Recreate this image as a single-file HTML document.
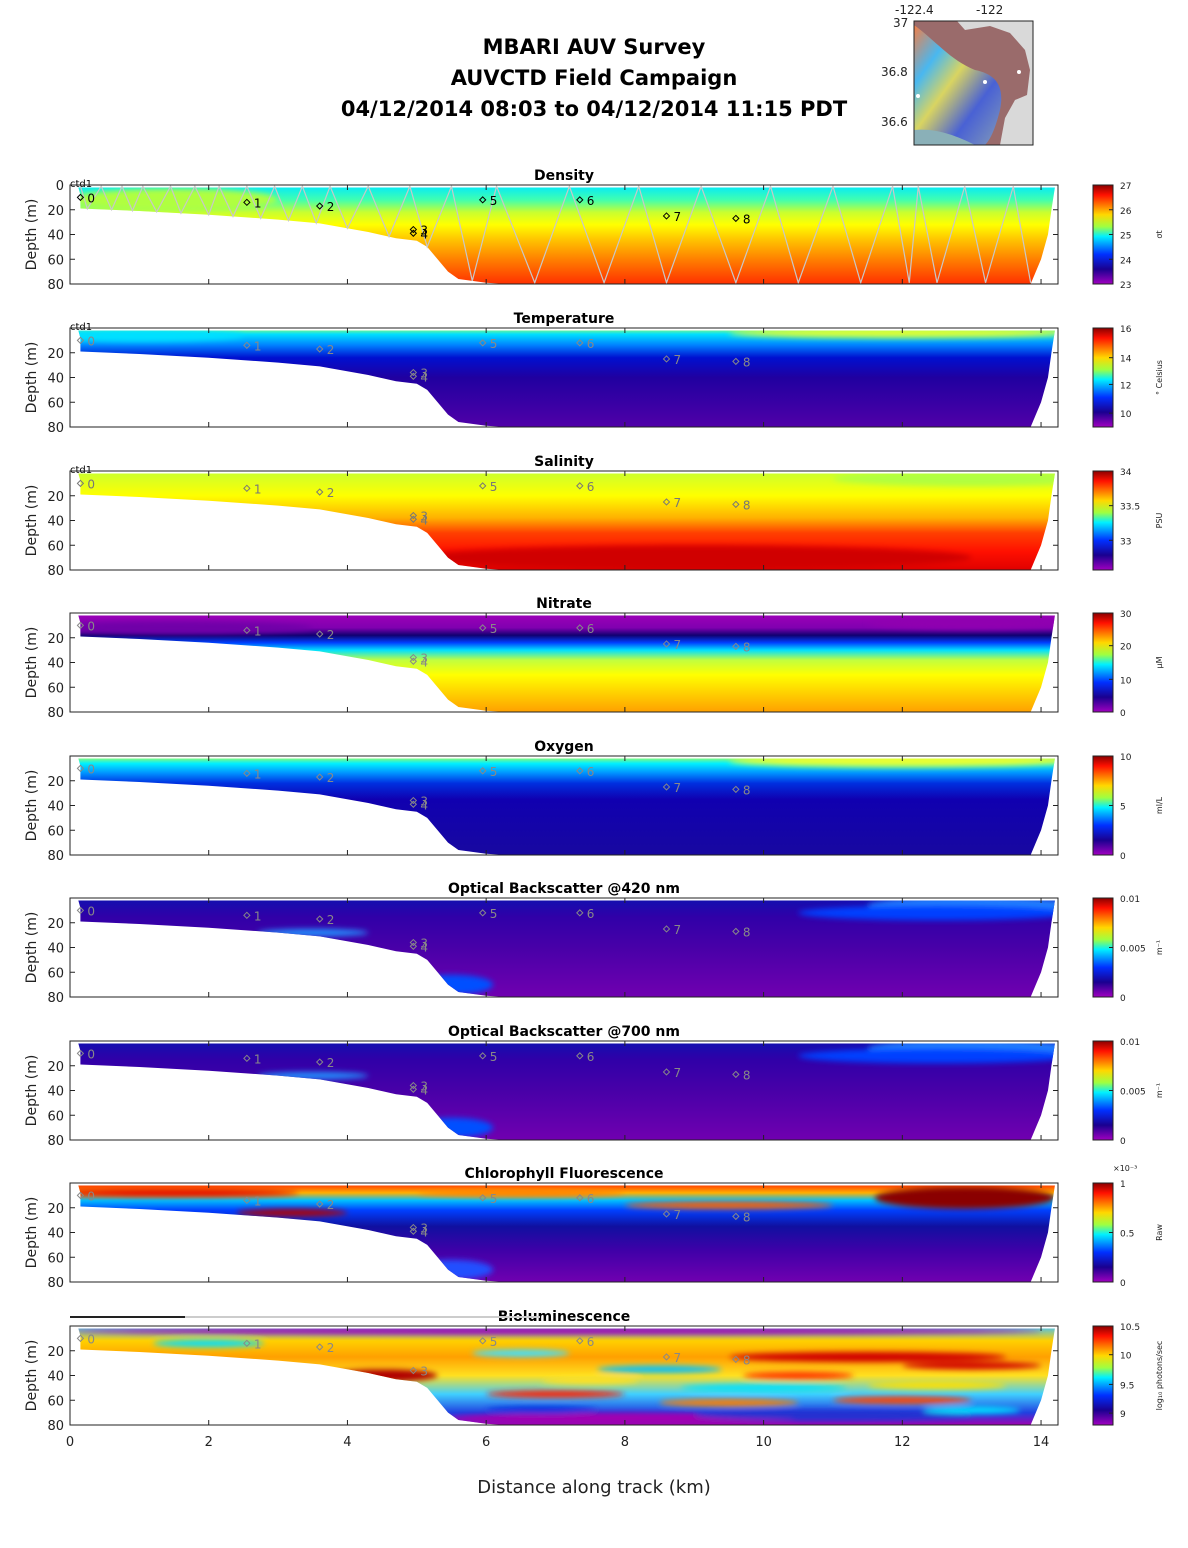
<!DOCTYPE html>
<html><head><meta charset="utf-8"><style>
body{margin:0;background:#fff;}
svg{display:block;font-family:"DejaVu Sans","Liberation Sans",sans-serif;}
</style></head><body>
<svg id="fig" width="1188" height="1548" viewBox="0 0 1188 1548" xmlns="http://www.w3.org/2000/svg">
<defs>
<linearGradient id="jet" x1="0" y1="0" x2="0" y2="1">
<stop offset="0" stop-color="#8a0000"/><stop offset="0.1" stop-color="#ff1000"/><stop offset="0.3" stop-color="#ffd800"/><stop offset="0.42" stop-color="#a0ff40"/><stop offset="0.52" stop-color="#00f0ff"/><stop offset="0.7" stop-color="#0030ff"/><stop offset="0.85" stop-color="#1a0090"/><stop offset="1" stop-color="#a000c0"/>
</linearGradient>
<linearGradient id="mapg" x1="0" y1="0" x2="1" y2="1">
<stop offset="0" stop-color="#ff8040"/><stop offset="0.25" stop-color="#40c0ff"/><stop offset="0.45" stop-color="#e0e060"/><stop offset="0.7" stop-color="#4060e0"/><stop offset="1" stop-color="#80a0c0"/>
</linearGradient>
<filter id="blur" x="-20%" y="-50%" width="140%" height="200%"><feGaussianBlur stdDeviation="3"/></filter>
</defs>
<g font-weight="bold" font-size="21" text-anchor="middle" fill="#000" style="white-space:pre">
<text x="594" y="54">MBARI AUV Survey</text>
<text x="594" y="85">AUVCTD Field Campaign</text>
<text x="594" y="116">04/12/2014 08:03  to 04/12/2014 11:15 PDT</text>
</g>
<g>
<rect x="914" y="21" width="119" height="124" fill="#d9d9d9"/>
<path d="M914 21 L957 21 L965 30 L990 26 L1010 33 L1025 50 L1030 70 L1027 95 L1015 100 L1005 118 L1000 145 L914 145 Z" fill="#9a6b6b"/>
<path d="M914 25 C935 40 950 60 975 70 C995 74 1005 85 1000 110 C995 130 990 140 985 145 L914 145 Z" fill="url(#mapg)" opacity="0.9"/>
<path d="M914 130 C935 128 955 135 975 145 L914 145 Z" fill="#8ab0b8"/>
<circle cx="1019" cy="72" r="2" fill="#fff"/><circle cx="985" cy="82" r="2" fill="#fff"/><circle cx="918" cy="96" r="2" fill="#fff"/>
<rect x="914" y="21" width="119" height="124" fill="none" stroke="#222" stroke-width="1"/>
<g font-size="12" fill="#222"><text x="895" y="14">-122.4</text><text x="976" y="14">-122</text>
<text x="893" y="27">37</text><text x="881" y="76">36.8</text><text x="881" y="126">36.6</text></g>
</g>
<g id="panels"></g>
<g font-size="13" fill="#222" id="xaxis"></g>
<text x="594" y="1493" font-size="18" text-anchor="middle" fill="#222">Distance along track (km)</text>
</svg>
<script>
// ---------- data ----------
const floorKm    = [13.85, 6.3, 6.0, 5.6, 5.45, 5.3, 5.15, 5.0, 4.7, 4.3, 3.6, 3.0, 2.0, 1.0, 0.15, 0.15];
const floorDepth = [80,    80,  79,  76,  70,   60,  50,   45,  43,  38,  31,  28,  24,  21,  19,   8];
const rightKm    = [14.2, 14.15, 14.1, 14.0, 13.85];
const rightDepth = [2,    20,    40,   60,   80];
const wpKm    = [0.15, 2.55, 3.6, 4.95, 4.95, 5.95, 7.35, 8.6, 9.6];
const wpDepth = [10,   14,   17,  36,   39,   12,   12,   25,  27];
const wpLabel = ['0','1','2','3','4','5','6','7','8'];
const turnsKm = [0.15,0.25,0.45,0.6,0.75,0.9,1.05,1.25,1.45,1.6,1.8,2.0,2.15,2.35,2.55,2.75,2.95,3.15,3.35,3.55,3.75,4.0,4.3,4.6,4.9,5.15,5.5,5.8,6.15,6.7,7.2,7.7,8.2,8.6,9.1,9.6,10.1,10.5,11.0,11.4,11.86,12.1,12.23,12.5,12.9,13.2,13.6,13.85];
const xTicks = [0,2,4,6,8,10,12,14];
const panelTitles = ['Density','Temperature','Salinity','Nitrate','Oxygen','Optical Backscatter @420 nm','Optical Backscatter @700 nm','Chlorophyll Fluorescence','Bioluminescence'];
const cbLabels = [['27','26','25','24','23'],['16','14','12','10'],['34','33.5','33'],['30','20','10','0'],['10','5','0'],['0.01','0.005','0'],['0.01','0.005','0'],['1','0.5','0'],['10.5','10','9.5','9']];
const cbFrac = [[0,0.25,0.5,0.75,1],[0,0.3,0.57,0.86],[0,0.35,0.7],[0,0.33,0.67,1],[0,0.5,1],[0,0.5,1],[0,0.5,1],[0,0.5,1],[0,0.29,0.59,0.88]];
const cbUnits = ['σt','° Celsius','PSU','μM','ml/L','m⁻¹','m⁻¹','Raw','log₁₀ photons/sec'];
const profiles = [
 [[0,'#00e8ff'],[12,'#40ffb0'],[22,'#c8ff30'],[32,'#ffff00'],[45,'#ffc000'],[60,'#ff8000'],[80,'#ff3000']],
 [[0,'#a0ff60'],[5,'#00e0ff'],[14,'#0080ff'],[24,'#0010d0'],[40,'#2000a0'],[80,'#5000a8']],
 [[0,'#c8ff30'],[20,'#ffff00'],[38,'#ffb000'],[50,'#ff4000'],[65,'#ff1000'],[80,'#e00000']],
 [[0,'#a000b8'],[12,'#8000b0'],[18,'#100070'],[24,'#0040ff'],[30,'#00e0ff'],[38,'#c0ff40'],[50,'#ffff00'],[80,'#ffa000']],
 [[0,'#c0ff40'],[6,'#00f0ff'],[14,'#0090ff'],[22,'#0030e0'],[35,'#1000b0'],[80,'#1808a0']],
 [[0,'#1010b0'],[15,'#3000a8'],[40,'#4800a8'],[80,'#7000b0']],
 [[0,'#1010b0'],[15,'#3000a8'],[40,'#4800a8'],[80,'#7000b0']],
 [[0,'#ff2000'],[8,'#ffb000'],[14,'#00c0ff'],[22,'#0040ff'],[35,'#1010a0'],[55,'#4000a8'],[80,'#7000b0']],
 [[0,'#40c0ff'],[12,'#ffd000'],[25,'#ffa000'],[40,'#ffe020'],[55,'#40d0ff'],[70,'#2040e0'],[80,'#a000b0']]
];
// blobs per panel: [km, depth, rxKm, ryDepth, colour]
const blobs = [
 [[1.5,12,1.5,9,'#b0ff40']],
 [[12,4,2.5,4,'#e0ff30'],[1,6,1.5,5,'#00e0ff']],
 [[13,6,2,6,'#b0ff40'],[9,70,4,10,'#d00000']],
 [[13,8,1.5,5,'#9000b0'],[1.5,12,2,5,'#7000a8']],
 [[12,4,2.5,5,'#e8ff30']],
 [[13,6,1.5,7,'#2080ff'],[12.5,12,2,6,'#0040ff'],[3.5,28,0.8,3,'#2090ff'],[5.5,70,0.6,8,'#0050ff']],
 [[13,6,1.5,7,'#2080ff'],[12.5,12,2,6,'#0040ff'],[3.5,28,0.8,3,'#2090ff'],[5.5,70,0.6,8,'#0050ff']],
 [[12.9,12,1.3,9,'#8a0000'],[1.5,8,1.8,3,'#e00000'],[3.2,24,0.8,3,'#b00000'],[6.5,8,1.5,3,'#ff8000'],[9.5,18,1.5,3,'#ff6000'],[5.5,70,0.6,8,'#2050ff']],
 [[7,4,7,3,'#a000b0'],[11.5,25,2,4,'#d00000'],[13,32,1,3,'#d00000'],[4.5,40,0.8,5,'#b00000'],[8,75,2.5,5,'#a000b0'],[11,72,2,4,'#2030d0'],[7,55,1,3,'#ff2000'],[10,50,1.2,3,'#00e0ff'],[12.5,48,1,3,'#ffe000'],
  [2,14,0.8,3,'#00e0ff'],[6.5,22,0.7,3,'#40e0ff'],[8.5,35,0.9,3,'#00c0ff'],[9.5,62,1,3,'#ff8000'],[12,60,1,3,'#ff4000'],[6.8,68,0.8,3,'#0030e0'],[13,68,0.7,3,'#00e0ff'],[10.5,40,0.8,3,'#ff3000'],[7.5,44,0.7,3,'#ffe020']]
];
// ---------- layout ----------
const panelTop = [185,328,471,613,756,898,1041,1183,1326];
const PH = 99, X0 = 70, X1 = 1058, KMPX = 69.36;
const xs = km => X0 + km*KMPX;
const NS = 'http://www.w3.org/2000/svg';
function mk(tag, attrs, parent){ const e=document.createElementNS(NS,tag); for(const k in attrs) e.setAttribute(k,attrs[k]); if(parent) parent.appendChild(e); return e; }
const root = document.getElementById('panels');
const defs = document.querySelector('defs');
panelTop.forEach((top,i)=>{
  const ys = d => top + d/80*PH;
  const g = mk('g',{},root);
  
  
  const lg = mk('linearGradient',{id:'pg'+i,x1:0,y1:0,x2:0,y2:1},defs);
  profiles[i].forEach(p=>mk('stop',{offset:p[0]/80,'stop-color':p[1]},lg));
  let pts = [[xs(0.12),ys(2)]];
  rightKm.forEach((k,j)=>pts.push([xs(k),ys(rightDepth[j])]));
  floorKm.forEach((k,j)=>pts.push([xs(k),ys(floorDepth[j])]));
  const cp = mk('clipPath',{id:'cp'+i},defs);
  mk('polygon',{points:pts.map(p=>p.join(',')).join(' ')},cp);
  const dg = mk('g',{'clip-path':'url(#cp'+i+')'},g);
  
  
  mk('rect',{x:X0,y:top,width:X1-X0,height:PH,fill:'url(#pg'+i+')'},dg);
  const bg = mk('g',{filter:'url(#blur)'},dg);
  blobs[i].forEach(b=>{
    const el = mk('ellipse',{cx:xs(b[0]),cy:ys(b[1]),rx:b[2]*KMPX,ry:b[3]/80*PH,fill:b[4]},bg);
    
    
  });
  if(i===0){
    const floorAt = km => { for(let j=0;j<floorKm.length-1;j++){ const a=floorKm[j],b=floorKm[j+1]; if(km<=a && km>=b){ return floorDepth[j]+(floorDepth[j+1]-floorDepth[j])*(a-km)/(a-b||1);} } return 80; };
    const tp = turnsKm.map((k,j)=>[xs(k), ys(j%2===0?1:Math.min(floorAt(k),79))]);
    const tr = mk('polyline',{points:tp.map(p=>p.join(',')).join(' '),fill:'none',stroke:'#c8c8c8','stroke-width':1.2},g);
    
    
  }
  const wc = i===0?'#000':(i===2?'#777':'#888');
  wpKm.forEach((k,j)=>{
    if(i===8 && j===4) return;
    const m = mk('g',{},g);
    
    
    mk('path',{d:`M${xs(k)} ${ys(wpDepth[j])-3} l3 3 l-3 3 l-3 -3z`,fill:'none',stroke:wc,'stroke-width':1},m);
    const t = mk('text',{x:xs(k)+7,y:ys(wpDepth[j])+5,'font-size':12,fill:wc},m); t.textContent=wpLabel[j];
  });
  if(i<3){ const t=mk('text',{x:70,y:top+2,'font-size':10,fill:'#000'},g); t.textContent='ctd1';   }
  mk('rect',{x:X0,y:top,width:X1-X0,height:PH,fill:'none',stroke:'#222','stroke-width':1},g);
  xTicks.forEach(k=>{ mk('line',{x1:xs(k),x2:xs(k),y1:top,y2:top+5,stroke:'#222'},g); mk('line',{x1:xs(k),x2:xs(k),y1:top+PH,y2:top+PH-5,stroke:'#222'},g); });
  const yt = i===0?[0,20,40,60,80]:[20,40,60,80];
  yt.forEach(d=>{
    mk('line',{x1:X0,x2:X0+5,y1:ys(d),y2:ys(d),stroke:'#222'},g);
    mk('line',{x1:X1,x2:X1-5,y1:ys(d),y2:ys(d),stroke:'#222'},g);
    const t=mk('text',{x:X0-6,y:ys(d)+5,'font-size':13,'text-anchor':'end',fill:'#222'},g); t.textContent=d;
     
  });
  const yl = mk('text',{x:0,y:0,'font-size':14,'text-anchor':'middle',fill:'#222',transform:`translate(36 ${top+PH/2}) rotate(-90)`},g);
  yl.textContent='Depth (m)';
   
  const tt = mk('text',{x:564,y:top-5,'font-size':14,'font-weight':'bold','text-anchor':'middle',fill:'#000'},g);
  tt.textContent = panelTitles[i];
   
  if(i===8){ mk('line',{x1:70,x2:185,y1:top-9,y2:top-9,stroke:'#222','stroke-width':2},g); mk('line',{x1:185,x2:540,y1:top-9,y2:top-9,stroke:'#ccc','stroke-width':2},g); }
  const cb = mk('g',{},g);
  
  
  mk('rect',{x:1093,y:top,width:20,height:PH,fill:'url(#jet)',stroke:'#222','stroke-width':1},cb);
  cbLabels[i].forEach((l,j)=>{
    const y = top + cbFrac[i][j]*PH;
    mk('line',{x1:1109,x2:1113,y1:y,y2:y,stroke:'#222'},cb);
    const t=mk('text',{x:1120,y:y+4,'font-size':9,fill:'#222'},cb); t.textContent=l;
  });
  const u = mk('text',{x:0,y:0,'font-size':8,'text-anchor':'middle',fill:'#222',transform:`translate(1162 ${top+PH/2}) rotate(-90)`},cb);
  u.textContent = cbUnits[i];
  if(i===7){ const e=mk('text',{x:1113,y:top-12,'font-size':8,fill:'#222'},cb); e.textContent='×10⁻³'; }
});
const xa = document.getElementById('xaxis');
xTicks.forEach(k=>{
  const t = mk('text',{x:xs(k),y:1446,'text-anchor':'middle'},xa);
  t.textContent = k;
  
  
});
</script>
</body></html>
